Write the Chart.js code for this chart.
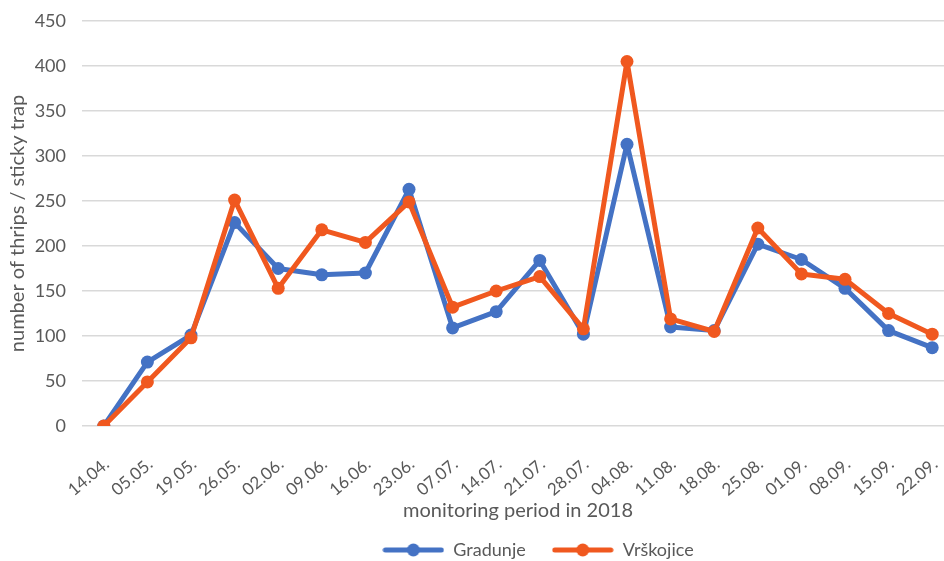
<!DOCTYPE html>
<html>
<head>
  <meta charset="utf-8">
  <title>thrips chart</title>
  <script src="https://cdn.jsdelivr.net/npm/chart.js@4.4.1/dist/chart.umd.min.js"></script>
</head>
<style>
body{
	margin: 0;
	overflow: hidden;
	background-color: #ffffff;
}
/* the original figure is wider than the crop, so the canvas runs past the window */
#wrap{
	width: 1074px;
	height: 561px;
}
</style>
<body>
  <div id="wrap">
	<canvas id="thripsChart"></canvas>
  </div>

<script>
// sampling dates
var dates = ["14.04.", "05.05.", "19.05.", "26.05.", "02.06.", "09.06.", "16.06.", "23.06.", "07.07.", "14.07.",
             "21.07.", "28.07.", "04.08.", "11.08.", "18.08.", "25.08.", "01.09.", "08.09.", "15.09.", "22.09."];
// thrips per sticky trap
var gradunje  = [0, 71, 101, 226, 175, 168, 170, 263, 109, 127, 184, 102, 313, 110, 106, 202, 185, 153, 106, 87];
var vrskojice = [0, 49, 98, 251, 153, 218, 204, 249, 132, 150, 166, 108, 405, 119, 105, 220, 169, 163, 125, 102];
var yTicks = [0, 50, 100, 150, 200, 250, 300, 350, 400, 450];

var blue = "#4472C4";
var orange = "#F0581F";
var grey = "#595959";
var fontName = "Lato, 'Open Sans', sans-serif";

// little line-with-dot pictures for the legend
function legendMark(color){
  var c = document.createElement("canvas");
  c.width = 62;
  c.height = 14;
  var g = c.getContext("2d");
  g.strokeStyle = color;
  g.lineWidth = 5;
  g.lineCap = "round";
  g.beginPath();
  g.moveTo(3, 7);
  g.lineTo(59, 7);
  g.stroke();
  g.fillStyle = color;
  g.beginPath();
  g.arc(31, 7, 6.5, 0, Math.PI * 2);
  g.fill();
  return c;
}

var chartData = {
  labels: dates,
  datasets: [
    {
      label: "Gradunje",
      data: gradunje,
      borderColor: blue,
      backgroundColor: blue,
      borderWidth: 5,
      borderJoinStyle: "round",
      pointRadius: 6.5,
      pointBorderWidth: 0,
      tension: 0,
      order: 2
    },
    {
      label: "Vrškojice",
      data: vrskojice,
      borderColor: orange,
      backgroundColor: orange,
      borderWidth: 5,
      borderJoinStyle: "round",
      pointRadius: 6.5,
      pointBorderWidth: 0,
      tension: 0,
      order: 1
    }
  ]
};

var options = {
  responsive: true,
  maintainAspectRatio: false,
  animation: false,
  layout: { padding: { left: 2, right: 0, top: 21, bottom: -8 } },
  plugins: {
    tooltip: { enabled: false },
    legend: {
      position: "bottom",
      align: "center",
      labels: {
        usePointStyle: true,
        pointStyleWidth: 62,
        color: grey,
        padding: 3,
        font: { family: fontName, size: 18 },
        generateLabels: function(chart){
          return chart.data.datasets.map(function(ds, i){
            // trailing spaces widen the gap between the two entries
            var txt = i == 0 ? ds.label + "\u00a0\u00a0\u00a0\u00a0\u00a0" : ds.label;
            return {
              text: txt,
              fillStyle: ds.borderColor,
              strokeStyle: ds.borderColor,
              fontColor: grey,
              pointStyle: legendMark(ds.borderColor),
              datasetIndex: i,
              hidden: false,
              lineWidth: 0
            };
          });
        }
      }
    }
  },
  scales: {
    x: {
      offset: true,
      afterFit: function(axis){ axis.height = 112; },
      grid: { display: false, drawTicks: false },
      border: { display: false },
      ticks: {
        color: grey,
        minRotation: 40,
        maxRotation: 40,
        autoSkip: false,
        padding: 28,
        labelOffset: 3,
        font: { family: fontName, size: 17 }
      },
      title: {
        display: true,
        text: "monitoring period in 2018",
        color: grey,
        padding: { top: 0, bottom: 15 },
        font: { family: fontName, size: 20 }
      }
    },
    y: {
      min: 0,
      max: 450,
      afterBuildTicks: function(axis){
        axis.ticks = yTicks.map(function(v){ return { value: v }; });
      },
      afterFit: function(axis){
        axis.width = 80;
        axis.paddingTop = 0;
        axis.paddingBottom = 0;
      },
      grid: { color: "#d9d9d9", lineWidth: 1.5, drawTicks: false },
      border: { display: false },
      ticks: {
        color: grey,
        padding: 16,
        font: { family: fontName, size: 18 }
      },
      title: {
        display: true,
        text: "number of thrips / sticky trap",
        color: grey,
        padding: { top: 4, bottom: 4 },
        font: { family: fontName, size: 20 }
      }
    },
    // empty strip on the right: the source figure continues past the crop
    yRight: {
      position: "right",
      display: true,
      grid: { display: false, drawTicks: false },
      border: { display: false },
      ticks: { display: false },
      afterFit: function(axis){ axis.width = 120; }
    }
  }
};

var ctx = document.getElementById("thripsChart").getContext("2d");
var myLine = new Chart(ctx, { type: "line", data: chartData, options: options });
</script>
</body>
</html>
